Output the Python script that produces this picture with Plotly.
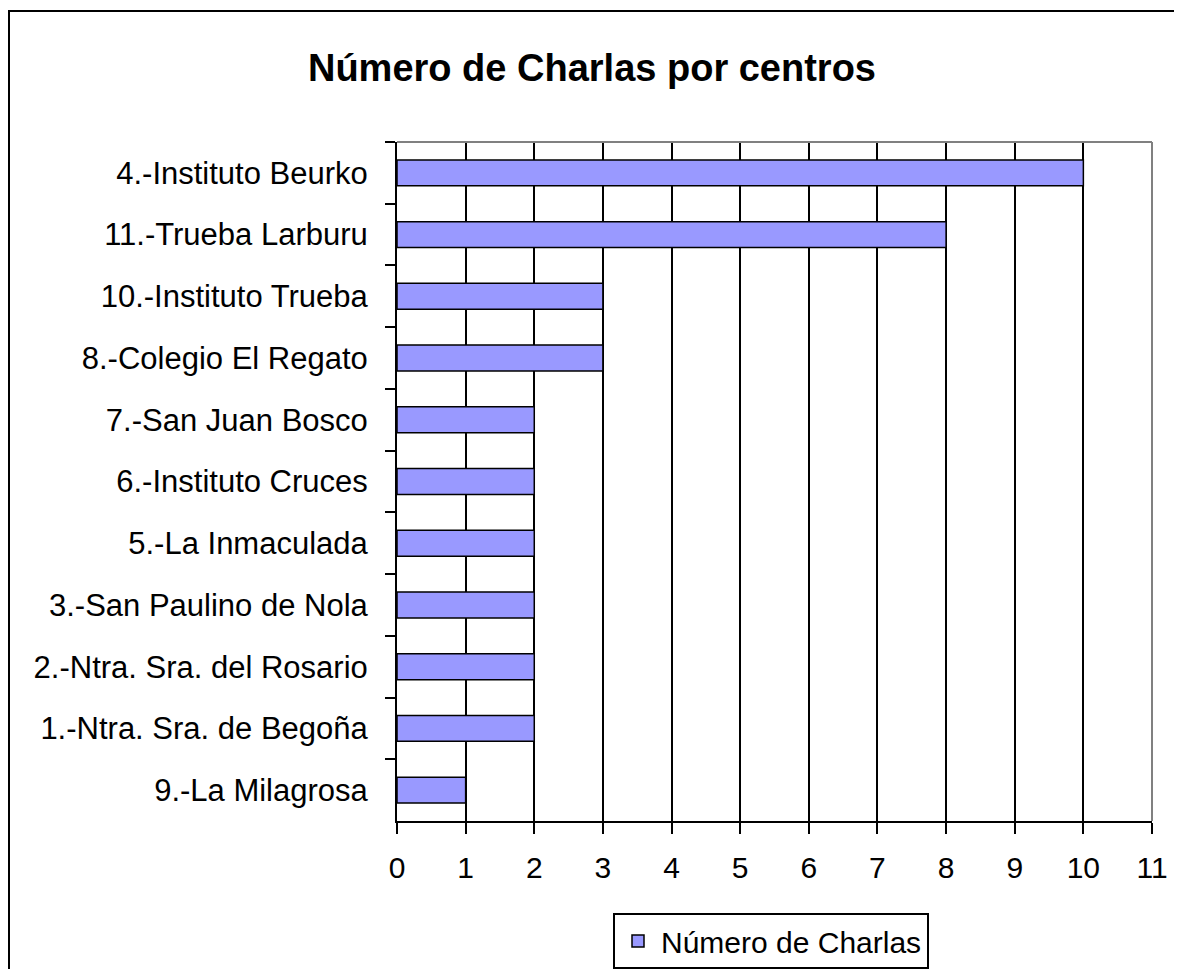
import plotly.graph_objects as go

categories = [
    "4.-Instituto Beurko",
    "11.-Trueba Larburu",
    "10.-Instituto Trueba",
    "8.-Colegio El Regato",
    "7.-San Juan Bosco",
    "6.-Instituto Cruces",
    "5.-La Inmaculada",
    "3.-San Paulino de Nola",
    "2.-Ntra. Sra. del Rosario",
    "1.-Ntra. Sra. de Begoña",
    "9.-La Milagrosa",
]
values = [10, 8, 3, 3, 2, 2, 2, 2, 2, 2, 1]
x_ticks = list(range(0, 12))
series_name = "Número de Charlas"
title_text = "Número de Charlas por centros"

# page has an 8px body margin; figure pixel = page pixel - OFF
OFF = 8
W, H = 1182 - OFF, 969 - OFF
L = 397 - OFF
T = 142 - OFF
R = W - (1152 - OFF)
B = H - (821 - OFF)
pw, ph = W - L - R, H - T - B

def px_x(page_x):
    return (page_x - OFF - L) / pw

def px_y(page_y):
    return (H - B - (page_y - OFF)) / ph

FONT = "Liberation Sans, Arial, sans-serif"

fig = go.Figure()
fig.add_trace(go.Bar(
    y=categories, x=values, orientation="h", name=series_name,
    marker=dict(color="#9999FF", line=dict(color="black", width=1.5)),
    width=0.42, showlegend=True,
))

fig.update_layout(
    width=W, height=H,
    margin=dict(l=L, r=R, t=T, b=B, autoexpand=False),
    paper_bgcolor="white", plot_bgcolor="white",
    font=dict(family=FONT, size=30, color="black"),
    title=dict(text="<b>" + title_text + "</b>", font=dict(size=38, family=FONT, color="black"),
               x=(592 - OFF) / W, xanchor="center", xref="container",
               y=1 - (68 - OFF) / H, yanchor="middle", yref="container"),
    showlegend=True,
    legend=dict(orientation="h", x=px_x(771), xanchor="center", y=px_y(913), yanchor="top",
                bordercolor="black", borderwidth=2, bgcolor="white",
                font=dict(size=30, family=FONT, color="black"),
                itemwidth=36),
)

fig.update_xaxes(
    range=[0, 11], tickvals=x_ticks, ticktext=[str(v) for v in x_ticks],
    showgrid=True, gridcolor="black", gridwidth=2,
    showline=True, linecolor="black", linewidth=2,
    ticks="outside", ticklen=11, tickwidth=2, tickcolor="black",
    zeroline=False, automargin=False, ticklabelstandoff=8,
    tickfont=dict(size=30, family=FONT, color="black"),
)
fig.update_yaxes(
    type="category", categoryorder="array", categoryarray=categories,
    autorange="reversed", tickson="boundaries",
    showgrid=False, showline=True, linecolor="black", linewidth=2,
    ticks="outside", ticklen=10, tickwidth=2, tickcolor="black",
    automargin=False, ticklabelstandoff=21,
    tickfont=dict(size=31, family=FONT, color="black"),
)

# gray top and right edges of plot area
fig.add_shape(type="line", xref="paper", yref="paper", x0=0, x1=1, y0=1, y1=1,
              line=dict(color="#808080", width=2), layer="above")
fig.add_shape(type="line", xref="paper", yref="paper", x0=1, x1=1, y0=0, y1=1,
              line=dict(color="#808080", width=2), layer="above")
# outer chart border
fig.add_shape(type="rect", xref="paper", yref="paper",
              x0=px_x(9), x1=px_x(1182 + 20), y0=px_y(969 + 20), y1=px_y(11),
              line=dict(color="black", width=2), fillcolor="rgba(0,0,0,0)", layer="below")

fig.write_html("out.html")
